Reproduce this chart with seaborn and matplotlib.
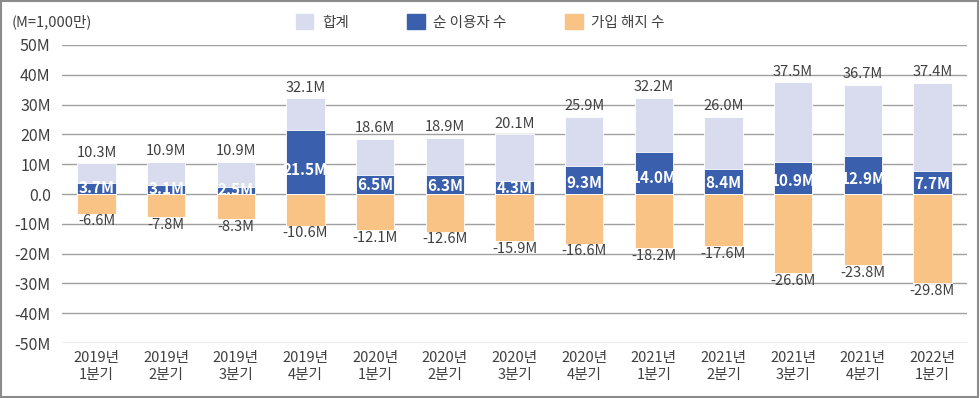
import pandas as pd
import matplotlib.pyplot as plt
import seaborn as sns
from matplotlib.patches import Patch

# 분기별 데이터 (단위: M = 1,000만)
quarters = ['2019년\n1분기', '2019년\n2분기', '2019년\n3분기', '2019년\n4분기',
            '2020년\n1분기', '2020년\n2분기', '2020년\n3분기', '2020년\n4분기',
            '2021년\n1분기', '2021년\n2분기', '2021년\n3분기', '2021년\n4분기',
            '2022년\n1분기']
total = [10.3, 10.9, 10.9, 32.1, 18.6, 18.9, 20.1, 25.9, 32.2, 26.0, 37.5, 36.7, 37.4]
net_users = [3.7, 3.1, 2.5, 21.5, 6.5, 6.3, 4.3, 9.3, 14.0, 8.4, 10.9, 12.9, 7.7]
churn = [-6.6, -7.8, -8.3, -10.6, -12.1, -12.6, -15.9, -16.6, -18.2, -17.6, -26.6, -23.8, -29.8]
y_ticks = [-50, -40, -30, -20, -10, 0, 10, 20, 30, 40, 50]

df = pd.DataFrame({'분기': quarters, '합계': total, '순 이용자 수': net_users, '가입 해지 수': churn})

c_total = '#D9DCEE'
c_net = '#3A5FAD'
c_churn = '#F8C384'
txt = '#404040'

sns.set_style('white')
plt.rcParams['font.family'] = ['Noto Sans CJK KR', 'DejaVu Sans']

fig = plt.figure(figsize=(9.8, 3.98), dpi=100)
ax = fig.add_axes([0.063, 0.138, 0.924, 0.749])

for col, color in [('합계', c_total), ('순 이용자 수', c_net), ('가입 해지 수', c_churn)]:
    sns.barplot(x='분기', y=col, data=df, color=color, width=0.55, ax=ax,
                edgecolor='white', linewidth=0.6, zorder=3, saturation=1)

ax.set_ylim(-50, 50)
ax.set_xlim(-0.5, 12.5)
ax.set_yticks(y_ticks)
ax.set_yticklabels(['0.0' if v == 0 else f'{v}M' for v in y_ticks])
ax.set_xlabel('')
ax.set_ylabel('')
ax.grid(axis='y', color='#A0A0A0', linewidth=1.0, zorder=0)
ax.set_axisbelow(True)
for s in ax.spines.values():
    s.set_visible(False)
ax.tick_params(axis='x', length=0, labelsize=10.5, colors=txt, pad=6)
ax.tick_params(axis='y', length=0, labelsize=11.5, colors=txt, pad=8)

for i in range(len(quarters)):
    ax.text(i, total[i] + 1.2, f'{total[i]:.1f}M', ha='center', va='bottom', fontsize=10.5, color=txt)
    ax.text(i, net_users[i] * 0.35 + 0.6, f'{net_users[i]:.1f}M', ha='center', va='center',
            fontsize=11, color='white', fontweight='bold')
    ax.text(i, churn[i] - 2.6, f'{churn[i]:.1f}M', ha='center', va='center', fontsize=10.5, color=txt)

fig.text(0.012, 0.945, '(M=1,000만)', fontsize=10.5, color=txt, va='center')

handles = [Patch(color=c_total, label='합계'), Patch(color=c_net, label='순 이용자 수'),
           Patch(color=c_churn, label='가입 해지 수')]
leg = fig.legend(handles=handles, loc='center', bbox_to_anchor=(0.49, 0.945), ncol=3, frameon=False,
                 fontsize=10.5, handlelength=1.2, handleheight=1.2, columnspacing=4.0, handletextpad=0.6)
for t in leg.get_texts():
    t.set_color(txt)

fig.patches.append(plt.Rectangle((0.001, 0.002), 0.997, 0.996, transform=fig.transFigure,
                                 fill=False, edgecolor='#8C8C8C', linewidth=1.5))

fig.savefig('out.png', dpi=100)
